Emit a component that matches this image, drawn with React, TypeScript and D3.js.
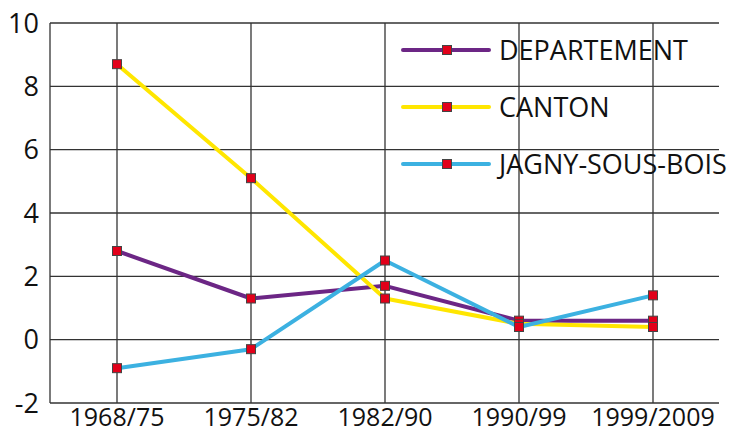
import React from "react";
import * as d3 from "d3";

// periods on the x axis
const periods = ["1968/75", "1975/82", "1982/90", "1990/99", "1999/2009"];
const yTicks = [-2, 0, 2, 4, 6, 8, 10];

const departement = [2.8, 1.3, 1.7, 0.6, 0.6];
const canton = [8.7, 5.1, 1.3, 0.5, 0.4];
const jagny = [-0.9, -0.3, 2.5, 0.4, 1.4];

const seriesNames = ["DEPARTEMENT", "CANTON", "JAGNY-SOUS-BOIS"];
const seriesColors = ["#6c2685", "#ffe600", "#3cb1e1"];

export default function App() {
  const width = 742;
  const height = 433;
  const left = 50;
  const right = 720;
  const top = 23;
  const bottom = 403;
  const font = "'Open Sans', sans-serif";

  const x = d3.scaleBand<string>().domain(periods).range([left, right]);
  const cx = (p: string) => (x(p) ?? 0) + x.bandwidth() / 2;
  const y = d3.scaleLinear().domain([-2, 10]).range([bottom, top]);

  const series = [departement, canton, jagny];
  const line = d3
    .line<number>()
    .x((_, i) => cx(periods[i]))
    .y((d) => y(d));

  const marker = (px: number, py: number, key: string) => (
    <rect
      key={key}
      x={px - 4.5}
      y={py - 4.5}
      width={9}
      height={9}
      fill="#e2001a"
      stroke="#444"
      strokeWidth={1}
    />
  );

  return (
    <svg
      width={width}
      height={height}
      style={{ position: "absolute", left: 0, top: 0, background: "#fff" }}
    >
      {/* grid */}
      <g stroke="#333" strokeWidth={1.3} fill="none">
        {yTicks.map((t) => (
          <line key={t} x1={left} x2={right - 1} y1={y(t)} y2={y(t)} />
        ))}
        <line x1={left} x2={left} y1={top} y2={bottom} />
        {periods.map((p) => (
          <line key={p} x1={cx(p)} x2={cx(p)} y1={top} y2={bottom} />
        ))}
      </g>

      {/* y labels */}
      <g fontFamily={font} fontSize={27} fill="#111" textAnchor="end">
        {yTicks.map((t) => (
          <text key={t} x={39} y={y(t)} dy="0.36em">
            {t}
          </text>
        ))}
      </g>

      {/* x labels */}
      <g fontFamily={font} fontSize={25} fill="#111" textAnchor="middle">
        {periods.map((p) => (
          <text key={p} x={cx(p)} y={426}>
            {p}
          </text>
        ))}
      </g>

      {/* lines */}
      {series.map((s, i) => (
        <path
          key={seriesNames[i]}
          d={line(s) ?? ""}
          fill="none"
          stroke={seriesColors[i]}
          strokeWidth={4}
          strokeLinejoin="round"
        />
      ))}
      {series.map((s, i) =>
        s.map((v, j) => marker(cx(periods[j]), y(v), `${i}-${j}`))
      )}

      {/* legend */}
      {seriesNames.map((name, i) => {
        const ly = 50 + i * 57;
        return (
          <g key={name}>
            <line
              x1={403}
              x2={489}
              y1={ly}
              y2={ly}
              stroke={seriesColors[i]}
              strokeWidth={4}
              strokeLinecap="round"
            />
            {marker(447, ly, `lg-${i}`)}
            <text
              x={499}
              y={ly}
              dy="0.36em"
              fontFamily={font}
              fontSize={27}
              fill="#111"
            >
              {name}
            </text>
          </g>
        );
      })}
    </svg>
  );
}
